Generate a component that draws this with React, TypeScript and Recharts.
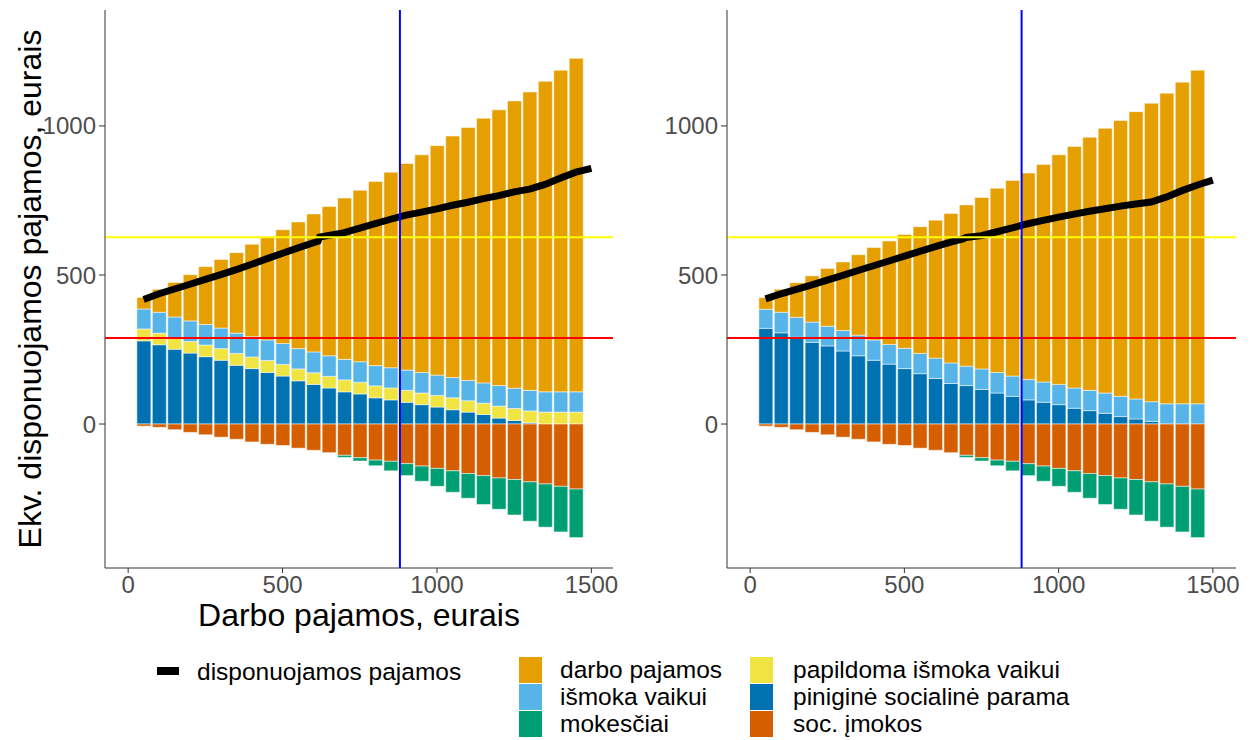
import { ComposedChart, Bar, Line, XAxis, YAxis, ReferenceLine } from "recharts"

// income levels (x) for the bars
const incomeLevels = [
  50, 100, 150, 200, 250, 300, 350, 400, 450, 500, 550, 600, 650, 700, 750,
  800, 850, 900, 950, 1000, 1050, 1100, 1150, 1200, 1250, 1300, 1350, 1400, 1450,
]

// shared by both panels
const darboPajamos = [
  39, 77, 116, 155, 194, 230, 270, 310, 347, 382, 425, 463, 501, 541, 575,
  618, 656, 693, 730, 770, 810, 849, 888, 925, 964, 1001, 1042, 1079, 1119,
]
const socImokos = [
  -7, -11, -19, -28, -36, -44, -51, -60, -68, -72, -81, -88, -96, -105, -113,
  -121, -125, -133, -141, -149, -157, -166, -173, -181, -186, -194, -201, -209, -218,
]
const mokesciai = [
  0, 0, 0, 0, 0, 0, 0, 0, 0, 0, 0, 0, 0, -7, -11,
  -19, -32, -40, -51, -60, -72, -83, -97, -105, -119, -132, -145, -153, -163,
]

// left panel
const leftPinigine = [
  279, 266, 251, 238, 226, 214, 197, 186, 173, 161, 145, 133, 121, 108, 101,
  88, 81, 73, 65, 57, 48, 40, 32, 20, 12, 4, 0, 0, 0,
]
const leftPapildoma = [
  40, 39, 38, 39, 39, 39, 40, 39, 40, 39, 40, 39, 39, 40, 39,
  40, 40, 40, 39, 39, 40, 38, 38, 40, 40, 40, 40, 40, 40,
]
const leftIsmoka = [
  67, 70, 70, 69, 69, 69, 68, 68, 69, 70, 68, 70, 69, 69, 69,
  68, 68, 68, 69, 68, 68, 68, 68, 69, 68, 69, 68, 68, 68,
]
const leftLineX = [
  50, 100, 150, 200, 250, 300, 350, 400, 450, 500, 550, 600, 615, 620, 650, 700, 750,
  800, 850, 900, 950, 1000, 1050, 1100, 1150, 1200, 1250, 1300, 1350, 1400, 1450, 1500,
]
const leftDisponuojamos = [
  418, 437, 453, 469, 485, 501, 518, 536, 555, 573, 591, 608, 613, 627, 633, 642, 657,
  672, 687, 701, 711, 722, 734, 744, 756, 766, 779, 788, 804, 825, 845, 858,
]

// right panel
const rightPinigine = [
  321, 306, 291, 274, 262, 245, 229, 214, 201, 186, 169, 153, 136, 129, 116,
  104, 93, 81, 73, 65, 53, 45, 36, 25, 17, 9, 0, 0, 0,
]
const rightIsmoka = [
  64, 69, 67, 68, 66, 69, 69, 68, 66, 68, 68, 68, 69, 65, 69,
  69, 68, 68, 68, 68, 68, 68, 68, 68, 67, 66, 68, 68, 68,
]
const rightLineX = [
  50, 100, 150, 200, 250, 300, 350, 400, 450, 500, 550, 600, 650, 690, 700, 750,
  800, 850, 900, 950, 1000, 1050, 1100, 1150, 1200, 1250, 1300, 1350, 1400, 1450, 1500,
]
const rightDisponuojamos = [
  420, 437, 452, 467, 483, 499, 515, 531, 547, 563, 579, 595, 610, 621, 626, 632,
  645, 658, 672, 683, 694, 704, 714, 722, 731, 738, 745, 762, 783, 802, 818,
]

const tickValuesX = [0, 500, 1000, 1500]
const tickValuesY = [0, 500, 1000]

const colors = {
  darbo: "#E69F00",
  ismoka: "#56B4E9",
  mokesciai: "#009E73",
  papildoma: "#F0E442",
  pinigine: "#0072B2",
  soc: "#D55E00",
}

const font = "'Liberation Sans', Arial, sans-serif"

function Panel({ left, width, pinigine, papildoma, ismoka, lineX, disp, xMax }) {
  const rows = incomeLevels.map((x, i) => ({
    x,
    pinigine: pinigine[i],
    papildoma: papildoma ? papildoma[i] : 0,
    ismoka: ismoka[i],
    darbo: darboPajamos[i],
    soc: socImokos[i],
    mokesciai: mokesciai[i],
  }))
  const lineRows = lineX.map((x, i) => ({ x, disp: disp[i] }))
  const barProps = { stackId: "a", barSize: 14, stroke: "#ffffff", strokeWidth: 0.5, isAnimationActive: false }

  return (
    <div style={{ position: "absolute", left, top: 0 }}>
      <ComposedChart
        width={width}
        height={640}
        data={rows}
        stackOffset="sign"
        margin={{ top: 10, right: 7, bottom: 32, left: 0 }}
      >
        <XAxis
          dataKey="x"
          type="number"
          domain={[-75, xMax]}
          ticks={tickValuesX}
          allowDataOverflow
          height={40}
          tickSize={5}
          tickMargin={3}
          stroke="#333333"
          tick={{ fill: "#4d4d4d", fontSize: 24 }}
        />
        {/* separate hidden axis for the finer line data, same scale */}
        <XAxis
          xAxisId="line"
          dataKey="x"
          type="number"
          domain={[-75, xMax]}
          allowDataOverflow
          hide
        />
        <YAxis
          type="number"
          domain={[-483, 1389]}
          ticks={tickValuesY}
          allowDataOverflow
          width={105}
          tickSize={6}
          tickMargin={3}
          stroke="#333333"
          tick={{ fill: "#4d4d4d", fontSize: 24 }}
        />
        <Bar dataKey="pinigine" fill={colors.pinigine} {...barProps} />
        {papildoma && <Bar dataKey="papildoma" fill={colors.papildoma} {...barProps} />}
        <Bar dataKey="ismoka" fill={colors.ismoka} {...barProps} />
        <Bar dataKey="darbo" fill={colors.darbo} {...barProps} />
        <Bar dataKey="soc" fill={colors.soc} {...barProps} />
        <Bar dataKey="mokesciai" fill={colors.mokesciai} {...barProps} />
        <Line
          xAxisId="line"
          data={lineRows}
          dataKey="disp"
          type="linear"
          stroke="#000000"
          strokeWidth={7}
          dot={false}
          activeDot={false}
          isAnimationActive={false}
        />
        <ReferenceLine y={627} stroke="#ffff00" strokeWidth={2} />
        <ReferenceLine y={289} stroke="#ff0000" strokeWidth={2} />
        <ReferenceLine x={880} stroke="#0000ff" strokeWidth={2} />
      </ComposedChart>
    </div>
  )
}

const legendBars = [
  { label: "darbo pajamos", color: colors.darbo, col: 0, row: 0 },
  { label: "išmoka vaikui", color: colors.ismoka, col: 0, row: 1 },
  { label: "mokesčiai", color: colors.mokesciai, col: 0, row: 2 },
  { label: "papildoma išmoka vaikui", color: colors.papildoma, col: 1, row: 0 },
  { label: "piniginė socialinė parama", color: colors.pinigine, col: 1, row: 1 },
  { label: "soc. įmokos", color: colors.soc, col: 1, row: 2 },
]

export default function App() {
  return (
    <div
      style={{
        position: "absolute",
        left: 0,
        top: 0,
        width: 1256,
        height: 740,
        background: "#ffffff",
        fontFamily: font,
        overflow: "hidden",
      }}
    >
      <Panel
        left={0}
        width={620}
        pinigine={leftPinigine}
        papildoma={leftPapildoma}
        ismoka={leftIsmoka}
        lineX={leftLineX}
        disp={leftDisponuojamos}
        xMax={1570}
      />
      <Panel
        left={622}
        width={621}
        pinigine={rightPinigine}
        papildoma={null}
        ismoka={rightIsmoka}
        lineX={rightLineX}
        disp={rightDisponuojamos}
        xMax={1575}
      />

      {/* axis titles */}
      <div
        style={{
          position: "absolute",
          left: 30,
          top: 289,
          transform: "translate(-50%, -50%) rotate(-90deg)",
          whiteSpace: "nowrap",
          fontSize: 32,
          color: "#000",
        }}
      >
        Ekv. disponuojamos pajamos, eurais
      </div>
      <div
        style={{
          position: "absolute",
          left: 359,
          top: 615,
          transform: "translate(-50%, -50%)",
          whiteSpace: "nowrap",
          fontSize: 32,
          color: "#000",
        }}
      >
        Darbo pajamos, eurais
      </div>

      {/* legend */}
      <div style={{ position: "absolute", left: 157, top: 667, width: 22, height: 8, background: "#000" }} />
      <div
        style={{ position: "absolute", left: 197, top: 672, transform: "translateY(-50%)", fontSize: 24.5, whiteSpace: "nowrap" }}
      >
        disponuojamos pajamos
      </div>
      {legendBars.map((d) => (
        <div key={d.label}>
          <div
            style={{
              position: "absolute",
              left: d.col === 0 ? 519 : 750,
              top: 657 + d.row * 27,
              width: 23,
              height: 26,
              background: d.color,
            }}
          />
          <div
            style={{
              position: "absolute",
              left: d.col === 0 ? 560 : 793,
              top: 670 + d.row * 27,
              transform: "translateY(-50%)",
              fontSize: 24.5,
              whiteSpace: "nowrap",
            }}
          >
            {d.label}
          </div>
        </div>
      ))}
    </div>
  )
}
